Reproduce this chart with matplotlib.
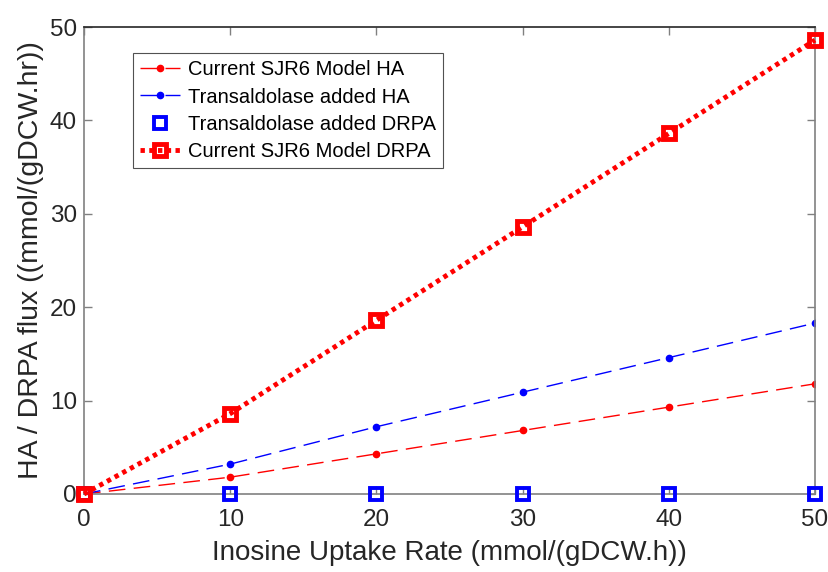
import matplotlib
matplotlib.use("Agg")
import matplotlib.pyplot as plt

plt.rcParams['font.family'] = ['Liberation Sans', 'DejaVu Sans']

uptake = [0, 10, 20, 30, 40, 50]
ha_current = [0, 1.8, 4.3, 6.8, 9.3, 11.8]
ha_transaldolase = [0, 3.2, 7.2, 10.9, 14.6, 18.3]
drpa_transaldolase = [0, 0, 0, 0, 0, 0]
drpa_current = [0, 8.6, 18.6, 28.6, 38.6, 48.6]

fig = plt.figure(figsize=(8.29, 5.72), dpi=100)
ax = fig.add_axes([84 / 829, 78 / 572, 731 / 829, 467 / 572])

ax.plot(uptake, ha_current, color="red", linestyle=(0, (12, 6)), linewidth=1.0,
        marker="o", markersize=4.5, label="Current SJR6 Model HA")
ax.plot(uptake, ha_transaldolase, color="blue", linestyle=(0, (12, 6)), linewidth=1.0,
        marker="o", markersize=4.5, label="Transaldolase added HA")
ax.plot(uptake, drpa_transaldolase, color="blue", linestyle="none", marker="s",
        markersize=8, markerfacecolor="none", markeredgewidth=2.8,
        label="Transaldolase added DRPA", clip_on=False, zorder=4)
ax.plot(uptake, drpa_current, color="red", linestyle=(0, (0.9, 0.9)), linewidth=3.5,
        marker="s", markersize=9, markerfacecolor="none", markeredgewidth=3.5,
        label="Current SJR6 Model DRPA", clip_on=False, zorder=5)

ax.set_xlim(0, 50)
ax.set_ylim(0, 50)
ax.set_xticks(uptake)
ax.set_yticks([0, 10, 20, 30, 40, 50])
ax.tick_params(direction="in", length=6, width=1.0, labelsize=17.5, color="#808080",
               labelcolor="#262626", top=True, right=True)
ax.tick_params(axis="x", pad=11)
ax.tick_params(axis="y", pad=5)
for name, s in ax.spines.items():
    s.set_color("#262626" if name == "top" else "#808080")
    s.set_linewidth(1.2)
ax.set_xlabel("Inosine Uptake Rate (mmol/(gDCW.h))", fontsize=20, color="#262626", labelpad=6)
ax.set_ylabel("HA / DRPA flux ((mmol/(gDCW.hr))", fontsize=20.5, color="#262626", labelpad=4)

leg = ax.legend(loc="upper left", bbox_to_anchor=(49 / 731, 441 / 467), fontsize=14.5,
                frameon=True, fancybox=False, borderaxespad=0, handlelength=2.0,
                handletextpad=0.4, labelspacing=0.42, borderpad=0.35)
leg.get_frame().set_edgecolor("#262626")
leg.get_frame().set_linewidth(0.8)

fig.savefig("out.png", dpi=100)
